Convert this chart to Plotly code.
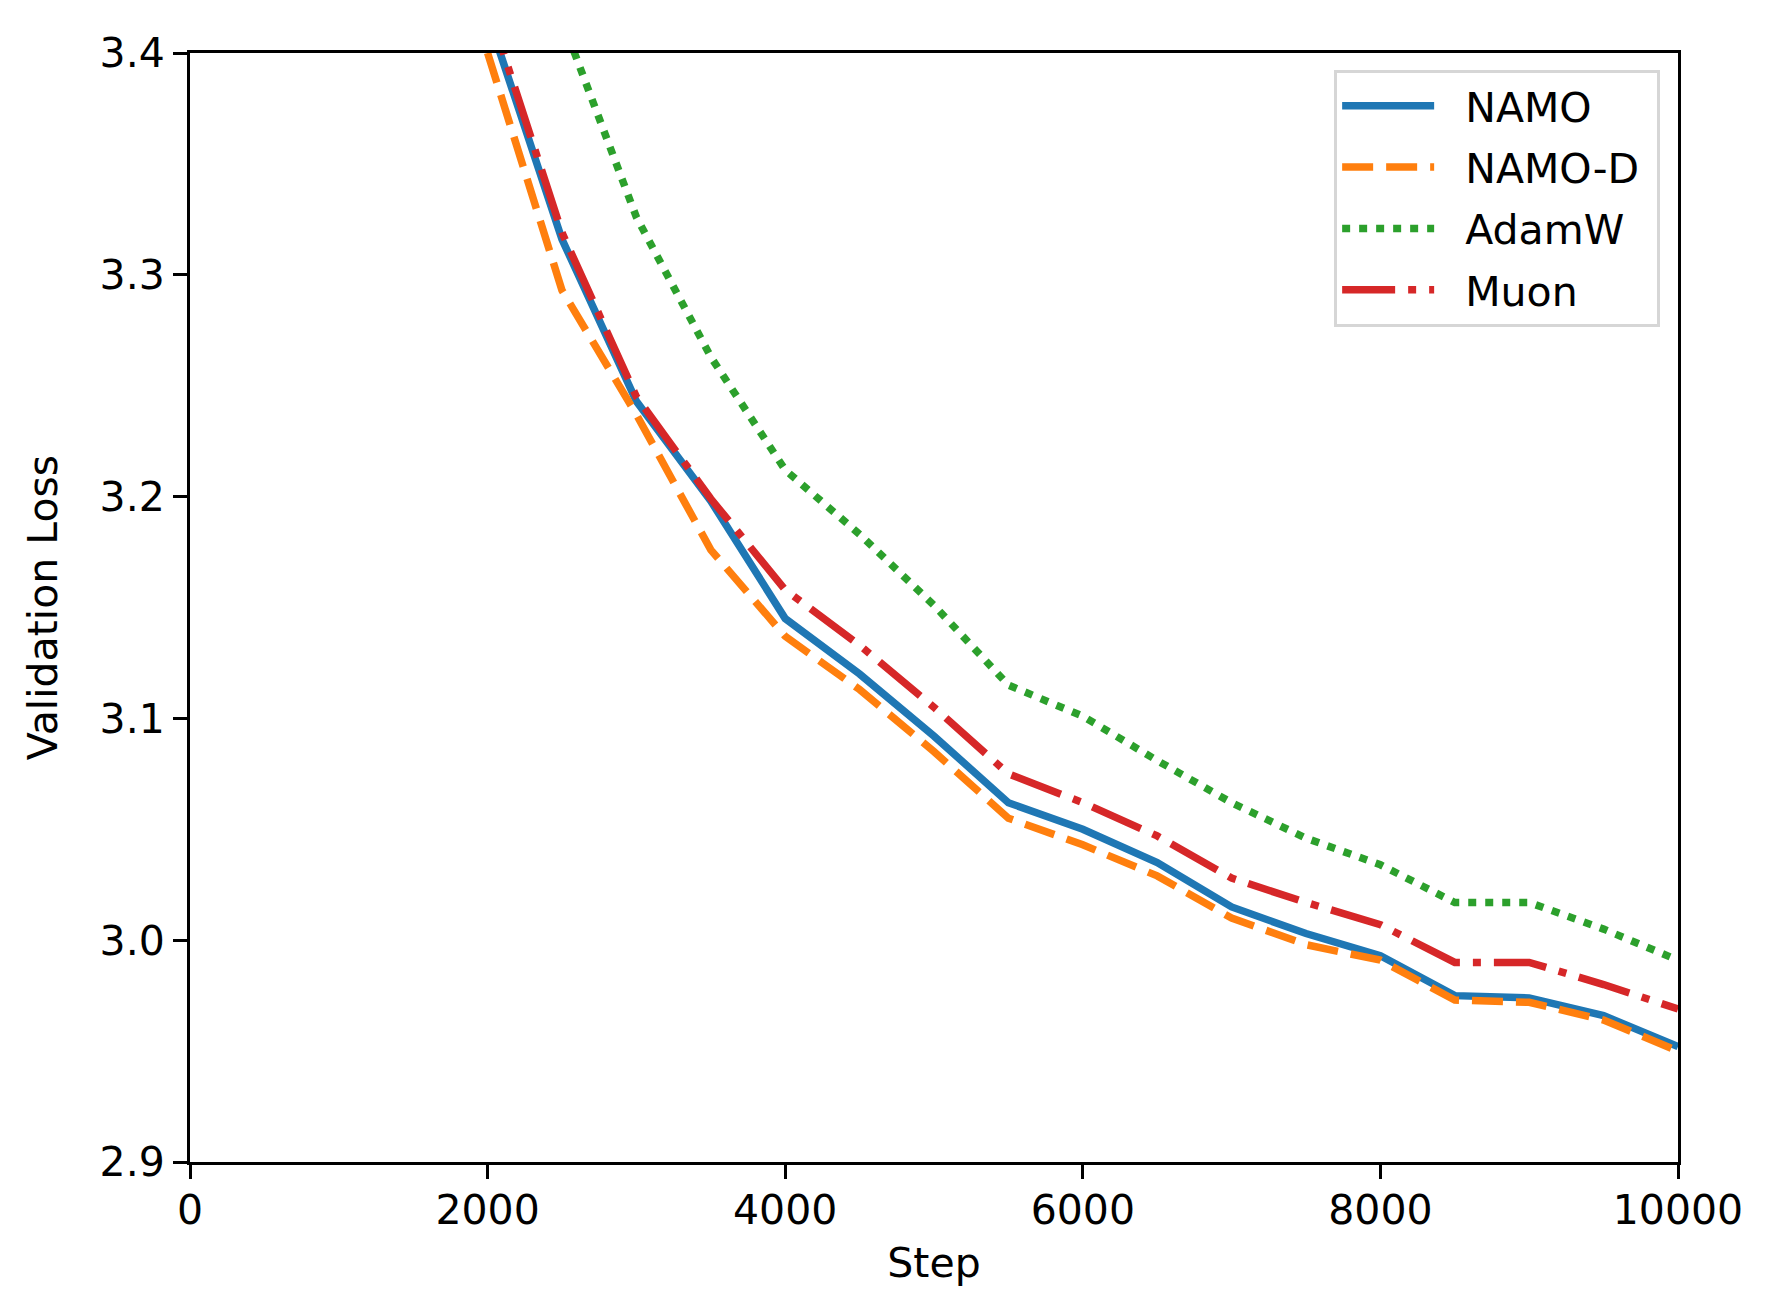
import plotly.graph_objects as go

steps = [2000, 2500, 3000, 3500, 4000, 4500, 5000, 5500, 6000, 6500, 7000, 7500, 8000, 8500, 9000, 9500, 10000]
steps_adamw = [2500, 3000, 3500, 4000, 4500, 5000, 5500, 6000, 6500, 7000, 7500, 8000, 8500, 9000, 9500, 10000]

namo = [3.417, 3.316, 3.243, 3.198, 3.145, 3.120, 3.092, 3.062, 3.050, 3.035, 3.015, 3.003, 2.993, 2.975, 2.974, 2.966, 2.952]
namo_d = [3.400, 3.293, 3.237, 3.176, 3.137, 3.113, 3.085, 3.055, 3.043, 3.029, 3.010, 2.998, 2.991, 2.973, 2.972, 2.964, 2.950]
adamw = [3.415, 3.326, 3.263, 3.212, 3.183, 3.151, 3.115, 3.101, 3.081, 3.062, 3.046, 3.034, 3.017, 3.017, 3.005, 2.991]
muon = [3.422, 3.319, 3.245, 3.199, 3.158, 3.133, 3.105, 3.075, 3.062, 3.047, 3.028, 3.017, 3.007, 2.990, 2.990, 2.980, 2.969]

series_names = ["NAMO", "NAMO-D", "AdamW", "Muon"]

x_ticks = [0, 2000, 4000, 6000, 8000, 10000]
x_tick_labels = ["0", "2000", "4000", "6000", "8000", "10000"]
y_ticks = [2.9, 3.0, 3.1, 3.2, 3.3, 3.4]
y_tick_labels = ["2.9", "3.0", "3.1", "3.2", "3.3", "3.4"]

FONT = "DejaVu Sans"
FS = 41
LW = 7.5
PAD = "\u00a0\u00a0"


def legend_label(name):
    return PAD + name + "\u00a0"


fig = go.Figure()
fig.add_trace(go.Scatter(x=steps, y=namo, mode="lines", name=legend_label(series_names[0]), legendgroup="a",
                         line=dict(color="#1f77b4", width=LW)))
fig.add_trace(go.Scatter(x=steps, y=namo_d, mode="lines", name=legend_label(series_names[1]), legendgroup="b",
                         line=dict(color="#ff7f0e", width=LW, dash="31px,13px")))
fig.add_trace(go.Scatter(x=steps_adamw, y=adamw, mode="lines", name=legend_label(series_names[2]), legendgroup="c",
                         line=dict(color="#2ca02c", width=LW, dash="8px,9px")))
fig.add_trace(go.Scatter(x=steps, y=muon, mode="lines", name=legend_label(series_names[3]), legendgroup="d",
                         line=dict(color="#d62728", width=LW, dash="53px,13px,8px,13px")))

axis_common = dict(showline=True, linecolor="black", linewidth=3, mirror=True,
                   ticks="outside", ticklen=14, tickwidth=3, tickcolor="black",
                   showgrid=False, zeroline=False,
                   tickfont=dict(family=FONT, size=FS, color="black"))

fig.update_layout(
    width=1766, height=1310,
    margin=dict(l=182, r=96, t=45, b=156),
    paper_bgcolor="white", plot_bgcolor="white",
    font=dict(family=FONT, size=FS, color="black"),
    xaxis=dict(range=[0, 10000], tickvals=x_ticks, ticktext=x_tick_labels,
               ticklabelstandoff=-4,
               title=dict(text="Step", font=dict(family=FONT, size=FS), standoff=16),
               **axis_common),
    yaxis=dict(range=[2.9, 3.4], tickvals=y_ticks, ticktext=y_tick_labels,
               title=dict(text="Validation Loss", font=dict(family=FONT, size=FS), standoff=30),
               **axis_common),
    legend=dict(x=0.988, y=0.985, xanchor="right", yanchor="top",
                bgcolor="rgba(255,255,255,0.8)", bordercolor="#d6d6d6", borderwidth=3,
                font=dict(family=FONT, size=FS, color="black"),
                itemwidth=92, tracegroupgap=5),
    showlegend=True,
)

fig.write_html("out.html")
